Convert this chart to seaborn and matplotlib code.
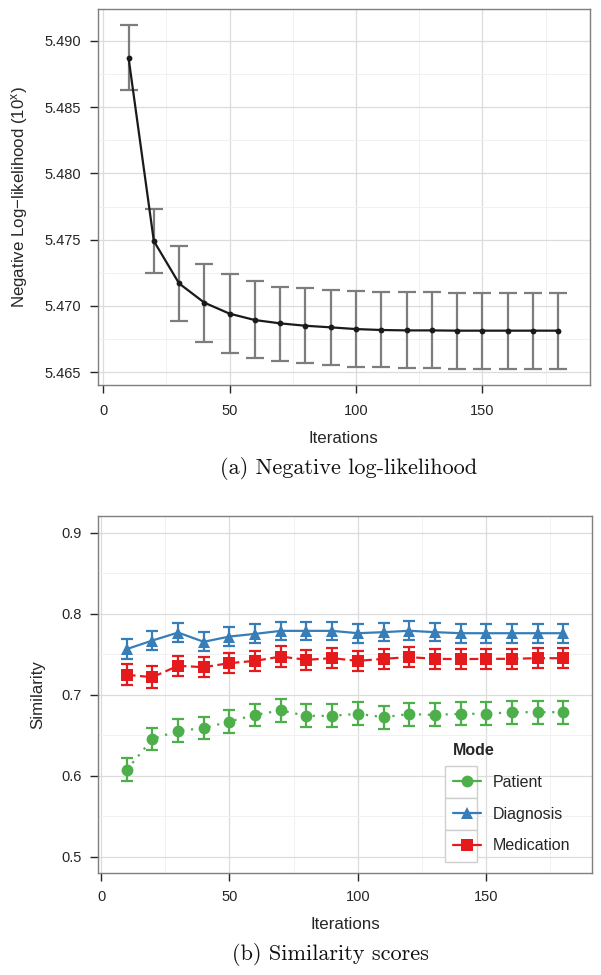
import numpy as np
import pandas as pd
import seaborn as sns
import matplotlib
matplotlib.use("Agg")
import matplotlib.pyplot as plt
from matplotlib.lines import Line2D
from matplotlib.patches import Rectangle
from matplotlib.ticker import MultipleLocator, FormatStrFormatter

# ---------------- data ----------------
iterations = [10, 20, 30, 40, 50, 60, 70, 80, 90, 100, 110, 120, 130, 140, 150, 160, 170, 180]

nll_mean = [5.48872, 5.47490, 5.47170, 5.47025, 5.46942, 5.46894, 5.46869, 5.46851, 5.46839,
            5.46826, 5.46819, 5.46816, 5.46816, 5.46814, 5.46814, 5.46814, 5.46814, 5.46814]
nll_upper = [5.49120, 5.47730, 5.47450, 5.47317, 5.47241, 5.47186, 5.47146, 5.47133, 5.47123,
             5.47113, 5.47103, 5.47103, 5.47103, 5.47098, 5.47098, 5.47098, 5.47098, 5.47098]
nll_lower = [5.48630, 5.47250, 5.46890, 5.46731, 5.46648, 5.46606, 5.46588, 5.46568, 5.46555,
             5.46542, 5.46538, 5.46533, 5.46533, 5.46525, 5.46525, 5.46525, 5.46525, 5.46525]

modes = ["Patient", "Diagnosis", "Medication"]
patient = [0.6075, 0.6454, 0.6556, 0.6589, 0.6671, 0.6753, 0.6807, 0.6741, 0.6741,
           0.6766, 0.6725, 0.6762, 0.6753, 0.6766, 0.6766, 0.6786, 0.6786, 0.6786]
diagnosis = [0.7564, 0.7670, 0.7768, 0.7654, 0.7719, 0.7752, 0.7789, 0.7789, 0.7789,
             0.7760, 0.7773, 0.7790, 0.7773, 0.7760, 0.7760, 0.7760, 0.7760, 0.7760]
medication = [0.7247, 0.7218, 0.7358, 0.7341, 0.7391, 0.7419, 0.7472, 0.7432, 0.7452,
              0.7419, 0.7444, 0.7465, 0.7444, 0.7440, 0.7444, 0.7444, 0.7452, 0.7452]
patient_err = [0.0143, 0.0140, 0.0143, 0.0136, 0.0140, 0.0140, 0.0143, 0.0142, 0.0142,
               0.0142, 0.0142, 0.0142, 0.0142, 0.0142, 0.0142, 0.0142, 0.0142, 0.0142]
diagnosis_err = [0.0123, 0.0121, 0.0115, 0.0117, 0.0117, 0.0117, 0.0113, 0.0115, 0.0115,
                 0.0115, 0.0115, 0.0115, 0.0115, 0.0115, 0.0115, 0.0115, 0.0115, 0.0115]
medication_err = [0.0131, 0.0133, 0.0125, 0.0125, 0.0125, 0.0125, 0.0125, 0.0125, 0.0125,
                  0.0125, 0.0125, 0.0125, 0.0125, 0.0125, 0.0125, 0.0125, 0.0125, 0.0125]

colors = {"Patient": "#4DAF4A", "Diagnosis": "#377EB8", "Medication": "#E41A1C"}
markers = {"Patient": "o", "Diagnosis": "^", "Medication": "s"}
dashes = {"Patient": (1, 3), "Diagnosis": "", "Medication": (4, 2)}

nll_df = pd.DataFrame({"Iterations": iterations, "nll": nll_mean})
sim_df = pd.DataFrame({
    "Iterations": iterations * 3,
    "Similarity": patient + diagnosis + medication,
    "err": patient_err + diagnosis_err + medication_err,
    "Mode": ["Patient"] * len(iterations) + ["Diagnosis"] * len(iterations) + ["Medication"] * len(iterations),
})

# ---------------- style ----------------
sns.set_theme(style="white")
plt.rcParams["font.family"] = ["Liberation Sans", "DejaVu Sans"]
plt.rcParams["mathtext.fontset"] = "custom"
plt.rcParams["mathtext.rm"] = "Liberation Sans"
plt.rcParams["mathtext.it"] = "Liberation Sans:italic"
plt.rcParams["axes.unicode_minus"] = False

TICK_COL = "#262626"
GRID_MAJ = "#dcdcdc"
GRID_MIN = "#f1f1f1"
BORDER = "#7f7f7f"
LABEL_FS = 12.2

fig = plt.figure(figsize=(6.01, 9.75), dpi=100)
ax1 = fig.add_axes([0.1626, 0.6051, 0.8191, 0.3857])
ax2 = fig.add_axes([0.1636, 0.1049, 0.8219, 0.3659])


def style_axes(ax, xpad):
    for s in ax.spines.values():
        s.set_color(BORDER)
        s.set_linewidth(1.0)
    ax.set_axisbelow(True)
    ax.grid(which="major", color=GRID_MAJ, lw=0.9)
    ax.grid(which="minor", color=GRID_MIN, lw=0.7)
    ax.tick_params(which="major", direction="out", length=6.0, width=1.0, color=TICK_COL,
                   labelsize=10.5, labelcolor=TICK_COL, left=True, bottom=True)
    ax.tick_params(axis="y", pad=6.2)
    ax.tick_params(axis="x", pad=xpad)
    ax.tick_params(which="minor", length=0)


# ---------------- panel (a) ----------------
yerr_lo = np.array(nll_mean) - np.array(nll_lower)
yerr_hi = np.array(nll_upper) - np.array(nll_mean)
ax1.errorbar(iterations, nll_mean, yerr=[yerr_lo, yerr_hi], fmt="none",
             ecolor="#7d7d7d", elinewidth=1.6, capsize=6.5, capthick=1.6, zorder=2)
sns.lineplot(data=nll_df, x="Iterations", y="nll", ax=ax1, color="#1a1a1a",
             linewidth=1.6, marker="o", markersize=4.2, markeredgewidth=0, zorder=3)
ax1.set_xlim(-2.2, 192.6)
ax1.set_ylim(5.46404, 5.49240)
ax1.xaxis.set_major_locator(MultipleLocator(50))
ax1.xaxis.set_minor_locator(MultipleLocator(25))
ax1.yaxis.set_major_locator(MultipleLocator(0.005))
ax1.yaxis.set_minor_locator(MultipleLocator(0.0025))
ax1.yaxis.set_major_formatter(FormatStrFormatter("%.3f"))
style_axes(ax1, 8.0)
ax1.set_xlabel("Iterations", fontsize=LABEL_FS, color=TICK_COL, labelpad=9.0)
ax1.set_ylabel(r"Negative Log$-$likelihood (10$^{\mathrm{x}}$)", fontsize=LABEL_FS,
               color=TICK_COL, labelpad=10.5)

# ---------------- panel (b) ----------------
for m in modes:
    d = sim_df[sim_df["Mode"] == m]
    ax2.errorbar(d["Iterations"], d["Similarity"], yerr=d["err"], fmt="none",
                 ecolor=colors[m], elinewidth=1.6, capsize=4.2, capthick=1.6, zorder=2)
sns.lineplot(data=sim_df, x="Iterations", y="Similarity", hue="Mode", style="Mode",
             hue_order=modes, style_order=modes, palette=colors, markers=markers,
             dashes=dashes, linewidth=1.6, markersize=8.5, markeredgewidth=0,
             ax=ax2, legend=False, zorder=3)
ax2.set_xlim(-1.05, 191.3)
ax2.set_ylim(0.4806, 0.9206)
ax2.xaxis.set_major_locator(MultipleLocator(50))
ax2.xaxis.set_minor_locator(MultipleLocator(25))
ax2.yaxis.set_major_locator(MultipleLocator(0.1))
ax2.yaxis.set_minor_locator(MultipleLocator(0.05))
ax2.yaxis.set_major_formatter(FormatStrFormatter("%.1f"))
style_axes(ax2, 6.7)
ax2.set_xlabel("Iterations", fontsize=LABEL_FS, color=TICK_COL, labelpad=9.0)
ax2.set_ylabel("Similarity", fontsize=LABEL_FS, color=TICK_COL, labelpad=11.5)

handles = [Line2D([], [], color=colors[m], marker=markers[m], markersize=8.5,
                  markeredgewidth=0, linewidth=1.6) for m in modes]
leg = ax2.legend(handles, modes, title="Mode", loc="upper left",
                 bbox_to_anchor=(445 / 601, 1 - 735 / 975), bbox_transform=fig.transFigure,
                 frameon=False, fontsize=11.5, title_fontproperties={"weight": "bold", "size": 11.5},
                 handlelength=1.75, handletextpad=0.75, labelspacing=1.05, borderpad=0,
                 alignment="left")
leg.set_zorder(6)
for t in leg.get_texts():
    t.set_color(TICK_COL)

# key boxes behind legend handles (ggplot-style legend keys)
fig.canvas.draw()
inv = ax2.transAxes.inverted()
for t in leg.get_texts():
    bb = t.get_window_extent()
    yc = (bb.y0 + bb.y1) / 2
    x0d, y0d = 445, yc - 16
    (ax0, ay0) = inv.transform((x0d, y0d))
    (ax1_, ay1) = inv.transform((x0d + 32, y0d + 32))
    ax2.add_patch(Rectangle((ax0, ay0), ax1_ - ax0, ay1 - ay0, transform=ax2.transAxes,
                            facecolor="white", edgecolor="#cfcfcf", lw=1.0, zorder=5,
                            clip_on=False))

# ---------------- captions ----------------
fig.text(349 / 601, 1 - 468.5 / 975, "(a) Negative log-likelihood", ha="center", va="center",
         family="cmr10", fontsize=16, color="#111111")
fig.text(330 / 601, 1 - 954 / 975, "(b) Similarity scores", ha="center", va="center",
         family="cmr10", fontsize=16, color="#111111")

fig.savefig("out.png", dpi=100)
